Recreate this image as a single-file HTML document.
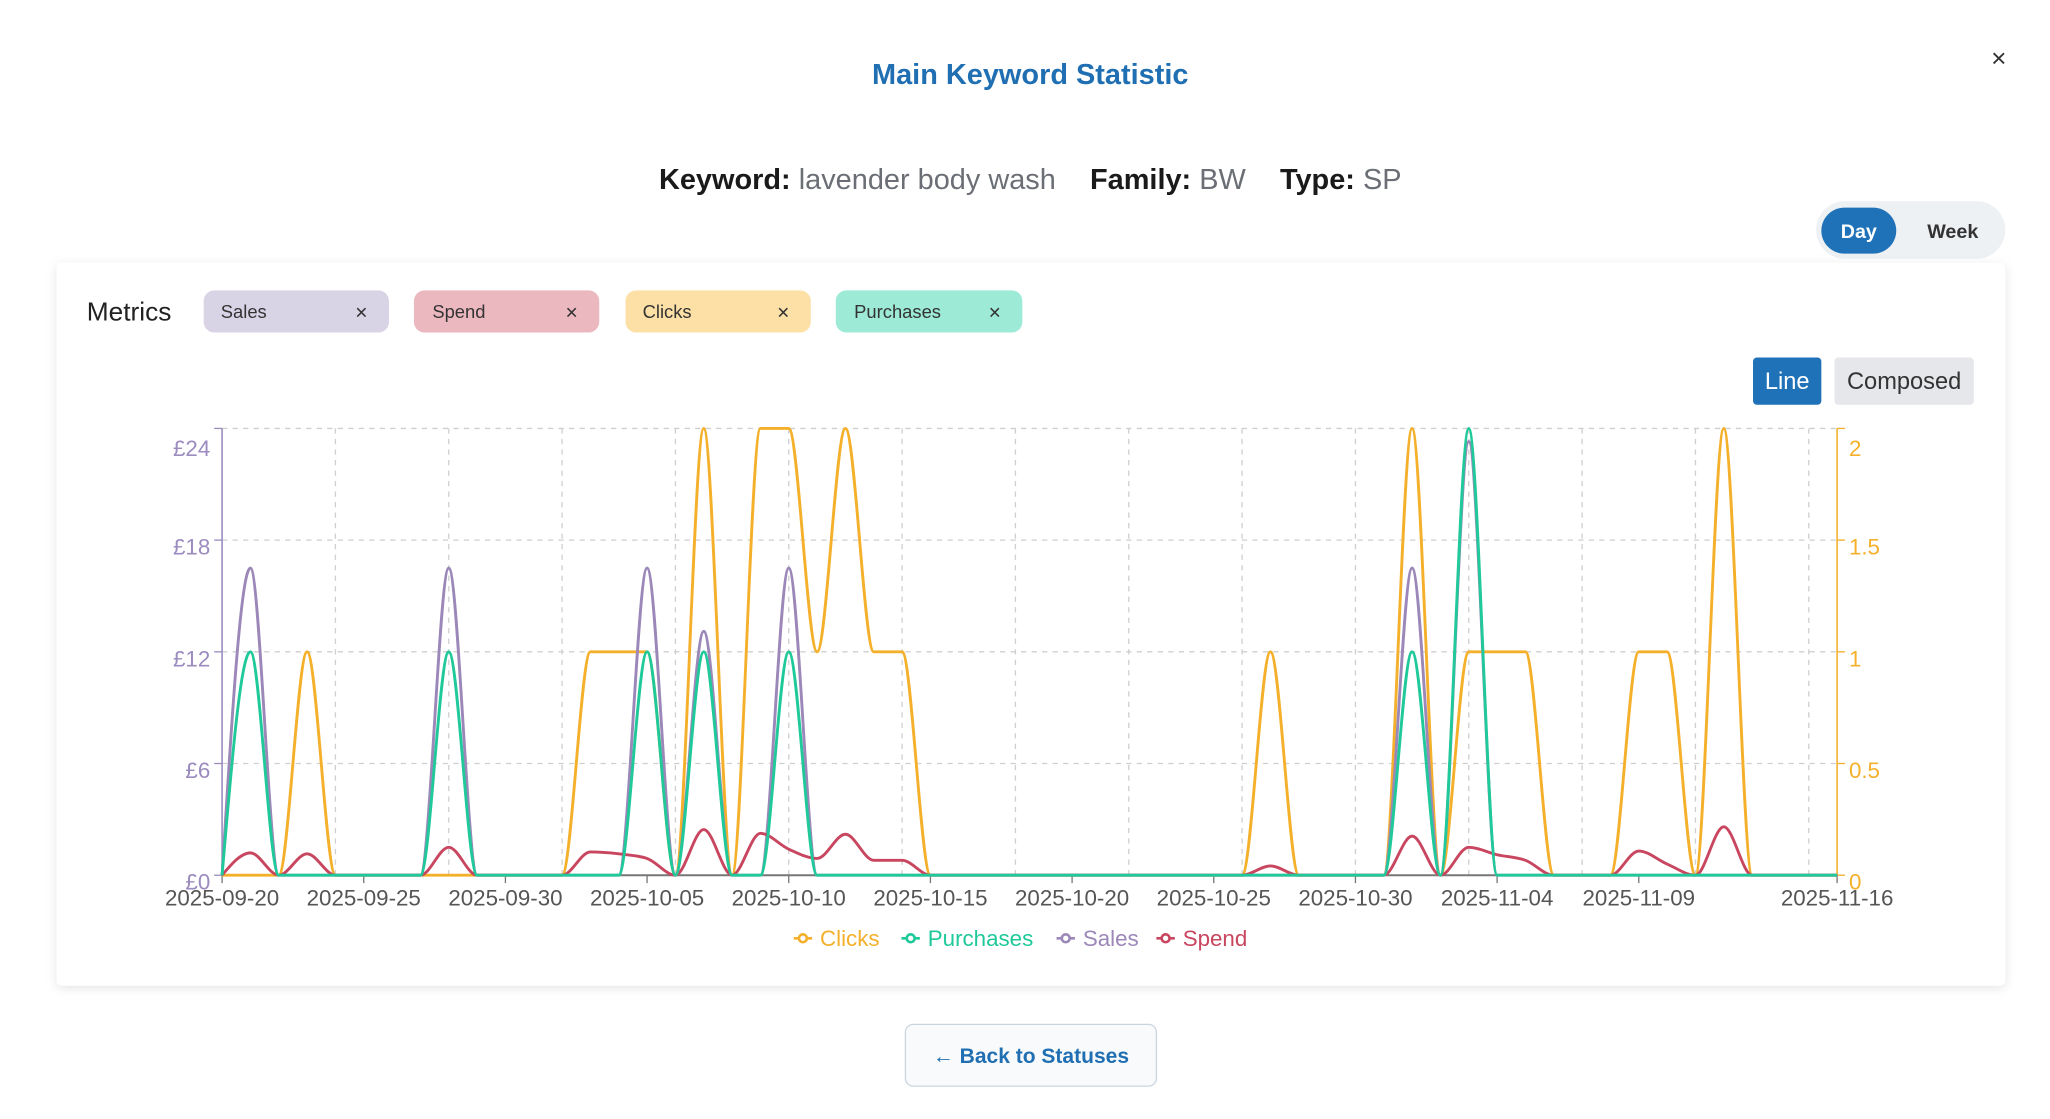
<!DOCTYPE html>
<html><head><meta charset="utf-8"><style>
html,body{margin:0;padding:0;background:#fff;}
svg{display:block;font-family:"Liberation Sans",Arial,sans-serif;}
</style></head><body>
<svg id="s" width="2050" height="1119" viewBox="0 0 1560 851.5" xmlns="http://www.w3.org/2000/svg">
<defs>
<filter id="sh" x="-5%" y="-5%" width="110%" height="115%"><feDropShadow dx="0" dy="2" stdDeviation="4" flood-color="#000" flood-opacity="0.10"/></filter>
</defs>
<rect width="1560" height="851.5" fill="#fff"/>
<text x="784" y="64" text-anchor="middle" font-size="22" font-weight="bold" fill="#1f6fb2">Main Keyword Statistic</text>
<text x="1521" y="51" text-anchor="middle" font-size="20" fill="#333">×</text>
<text x="784" y="144" text-anchor="middle" font-size="22"><tspan font-weight="bold" fill="#1a1a1a">Keyword:</tspan><tspan fill="#6b6f75"> lavender body wash</tspan><tspan font-weight="bold" fill="#1a1a1a" dx="26">Family:</tspan><tspan fill="#6b6f75"> BW</tspan><tspan font-weight="bold" fill="#1a1a1a" dx="26">Type:</tspan><tspan fill="#6b6f75"> SP</tspan></text>
<rect x="1382" y="153" width="144" height="44" rx="22" fill="#eef1f4"/>
<rect x="1386" y="158" width="57" height="35" rx="17.5" fill="#1f72b8"/>
<text x="1414.5" y="181" text-anchor="middle" font-size="15" font-weight="bold" fill="#fff">Day</text>
<text x="1486" y="181" text-anchor="middle" font-size="15" font-weight="bold" fill="#333">Week</text>
<rect x="43" y="200" width="1483" height="550" rx="4" fill="#fff" filter="url(#sh)"/>
<text x="66" y="244" font-size="20" fill="#222">Metrics</text>
<g font-size="14" fill="#333">
<rect x="155" y="221" width="141" height="32" rx="8" fill="#d9d3e6"/><text x="168" y="242">Sales</text><text x="275" y="243" text-anchor="middle" font-size="16">×</text>
<rect x="315" y="221" width="141" height="32" rx="8" fill="#ecb8c0"/><text x="329" y="242">Spend</text><text x="435" y="243" text-anchor="middle" font-size="16">×</text>
<rect x="476" y="221" width="141" height="32" rx="8" fill="#fde0a6"/><text x="489" y="242">Clicks</text><text x="596" y="243" text-anchor="middle" font-size="16">×</text>
<rect x="636" y="221" width="142" height="32" rx="8" fill="#9debd6"/><text x="650" y="242">Purchases</text><text x="757" y="243" text-anchor="middle" font-size="16">×</text>
</g>
<rect x="1334" y="272" width="52" height="36" rx="3" fill="#1f72b8"/>
<text x="1360" y="296" text-anchor="middle" font-size="18" fill="#fff">Line</text>
<rect x="1396" y="272" width="106" height="36" rx="3" fill="#e5e7ea"/>
<text x="1449" y="296" text-anchor="middle" font-size="18" fill="#333">Composed</text>
<g id="grid" stroke="#cfcfcf" stroke-dasharray="4 4" stroke-width="1"></g>
<g id="axes"></g>
<g id="lines" fill="none" stroke-width="2.2"></g>
<g font-size="17" text-anchor="start">
<g transform="translate(604,714)"><line x1="0" y1="0" x2="14" y2="0" stroke="#f5b02b" stroke-width="2"/><circle cx="7" cy="0" r="3" fill="#fff" stroke="#f5b02b" stroke-width="2"/><text x="20" y="6" fill="#f5b02b">Clicks</text></g>
<g transform="translate(686,714)"><line x1="0" y1="0" x2="14" y2="0" stroke="#1fc99a" stroke-width="2"/><circle cx="7" cy="0" r="3" fill="#fff" stroke="#1fc99a" stroke-width="2"/><text x="20" y="6" fill="#1fc99a">Purchases</text></g>
<g transform="translate(804,714)"><line x1="0" y1="0" x2="14" y2="0" stroke="#9b87b8" stroke-width="2"/><circle cx="7" cy="0" r="3" fill="#fff" stroke="#9b87b8" stroke-width="2"/><text x="20" y="6" fill="#9b87b8">Sales</text></g>
<g transform="translate(880,714)"><line x1="0" y1="0" x2="14" y2="0" stroke="#c8465f" stroke-width="2"/><circle cx="7" cy="0" r="3" fill="#fff" stroke="#c8465f" stroke-width="2"/><text x="20" y="6" fill="#c8465f">Spend</text></g>
</g>
<rect x="689" y="779.5" width="191" height="47" rx="6" fill="#f8fafc" stroke="#cbd5e0"/>
<text x="784.5" y="809" text-anchor="middle" font-size="16" font-weight="bold" fill="#1f6fb2">← Back to Statuses</text>
</svg>
<script>
(function(){
var NS="http://www.w3.org/2000/svg";
function el(p,t,a,txt){var e=document.createElementNS(NS,t);for(var k in a)e.setAttribute(k,a[k]);if(txt!=null)e.textContent=txt;p.appendChild(e);return e;}
var L=169,R=1398,T=326,B=666,N=57,dx=(R-L)/N;
function X(d){return L+dx*d;}
var grid=document.getElementById('grid'),axes=document.getElementById('axes'),lines=document.getElementById('lines');
[411,496,581].concat([T]).forEach(function(y){el(grid,'line',{x1:L,x2:R,y1:y,y2:y});});
for(var d=4;d<N;d+=4){el(grid,'line',{x1:X(d),x2:X(d),y1:T,y2:B});}
el(axes,'line',{x1:L,x2:L,y1:T,y2:B,stroke:'#9b8bbf','stroke-width':1.2});
el(axes,'line',{x1:R,x2:R,y1:T,y2:B,stroke:'#f5b02b','stroke-width':1.2});
el(axes,'line',{x1:L,x2:R,y1:B,y2:B,stroke:'#777','stroke-width':1.5});
var ly=[[341,'£24',326],[416,'£18',411],[501,'£12',496],[586,'£6',581],[671,'£0',666]];
ly.forEach(function(a){el(axes,'line',{x1:L-6,x2:L,y1:a[2],y2:a[2],stroke:'#9b8bbf'});el(axes,'text',{x:L-9,y:a[0]+6,'text-anchor':'end','font-size':17,fill:'#9b8bbf'},a[1]);});
var ry=[[341,'2',326],[416,'1.5',411],[501,'1',496],[586,'0.5',581],[671,'0',666]];
ry.forEach(function(a){el(axes,'line',{x1:R,x2:R+6,y1:a[2],y2:a[2],stroke:'#f5b02b'});el(axes,'text',{x:R+9,y:a[0]+6,'font-size':17,fill:'#f5b02b'},a[1]);});
var xt=[[0,'2025-09-20'],[5,'2025-09-25'],[10,'2025-09-30'],[15,'2025-10-05'],[20,'2025-10-10'],[25,'2025-10-15'],[30,'2025-10-20'],[35,'2025-10-25'],[40,'2025-10-30'],[45,'2025-11-04'],[50,'2025-11-09'],[57,'2025-11-16']];
xt.forEach(function(a){var x=X(a[0]);el(axes,'line',{x1:x,x2:x,y1:B,y2:B+6,stroke:'#777'});el(axes,'text',{x:x,y:B+23,'text-anchor':'middle','font-size':17,fill:'#555'},a[1]);});
function arr(m){var a=[];for(var i=0;i<=N;i++)a.push(m[i]||0);return a;}
var clicks=arr({3:1,13:1,14:1,15:1,17:2,19:2,20:2,21:1,22:2,23:1,24:1,37:1,42:2,44:1,45:1,46:1,50:1,51:1,53:2});
var purch=arr({1:1,8:1,15:1,17:1,20:1,42:1,44:2});
var sales=arr({1:16.5,8:16.5,15:16.5,17:13.1,20:16.5,42:16.5,44:23.3});
var spend=arr({1:1.2,3:1.15,8:1.5,13:1.25,14:1.15,15:0.9,17:2.45,19:2.25,20:1.4,21:0.9,22:2.2,23:0.8,24:0.8,37:0.5,42:2.1,44:1.5,45:1.1,46:0.8,50:1.3,51:0.6,53:2.6});
function sign(v){return v<0?-1:1;}
function path(vals,yf){
 var p=vals.map(function(v,i){return [X(i),yf(v)];});var n=p.length,t=new Array(n);
 for(var i=1;i<n-1;i++){var h0=p[i][0]-p[i-1][0],h1=p[i+1][0]-p[i][0],s0=(p[i][1]-p[i-1][1])/h0,s1=(p[i+1][1]-p[i][1])/h1,pp=(s0*h1+s1*h0)/(h0+h1);t[i]=(sign(s0)+sign(s1))*Math.min(Math.abs(s0),Math.abs(s1),0.5*Math.abs(pp))||0;}
 var h=p[1][0]-p[0][0];t[0]=(3*(p[1][1]-p[0][1])/h-t[1])/2;
 h=p[n-1][0]-p[n-2][0];t[n-1]=(3*(p[n-1][1]-p[n-2][1])/h-t[n-2])/2;
 var d='M'+p[0][0]+','+p[0][1];
 for(i=0;i<n-1;i++){var q=(p[i+1][0]-p[i][0])/3;d+='C'+(p[i][0]+q)+','+(p[i][1]+q*t[i])+','+(p[i+1][0]-q)+','+(p[i+1][1]-q*t[i+1])+','+p[i+1][0]+','+p[i+1][1];}
 return d;}
var yl=function(v){return B-v*(B-T)/24;},yr=function(v){return B-v*(B-T)/2;};
el(lines,'path',{d:path(clicks,yr),stroke:'#f5b02b'});
el(lines,'path',{d:path(sales,yl),stroke:'#9b87b8'});
el(lines,'path',{d:path(spend,yl),stroke:'#c8465f'});
el(lines,'path',{d:path(purch,yr),stroke:'#1fc99a'});
})();
</script>
</body></html>
